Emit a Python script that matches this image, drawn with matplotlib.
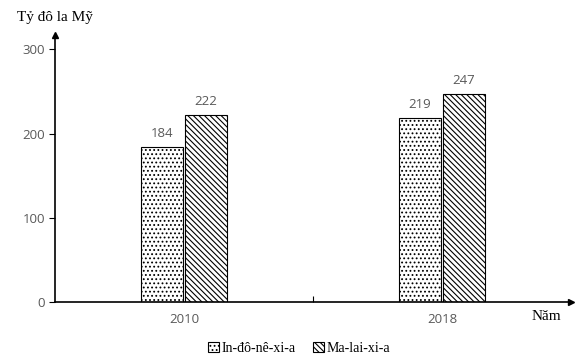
import matplotlib
matplotlib.use("Agg")
import matplotlib.pyplot as plt
import numpy as np

years = ["2010", "2018"]
indo = [184, 219]
malay = [222, 247]
series_names = ["In-đô-nê-xi-a", "Ma-lai-xi-a"]

plt.rcParams['hatch.linewidth'] = 0.8

fig = plt.figure(figsize=(5.81, 3.59), dpi=100)
ax = fig.add_axes([0.0947, 0.1588, 0.888, 0.7437])

x = np.arange(len(years))
w = 0.16
b1 = ax.bar(x - w / 2 - 0.005, indo, w, color='white', edgecolor='black',
            hatch='....', linewidth=0.8, label=series_names[0])
b2 = ax.bar(x + w / 2 + 0.005, malay, w, color='white', edgecolor='black',
            hatch='\\\\\\\\\\\\', linewidth=0.8, label=series_names[1])

for bars, vals in [(b1, indo), (b2, malay)]:
    for r, v in zip(bars, vals):
        ax.text(r.get_x() + r.get_width() / 2, v + 8, str(v), ha='center',
                va='bottom', fontsize=9.5, color='#595959', family='Open Sans')

ax.set_xlim(-0.5, 1.5)
ax.set_ylim(0, 317)
ax.set_yticks([0, 100, 200, 300])
ax.set_xticks(x)
ax.set_xticklabels(years)
ax.set_xticks([0.5], minor=True)
ax.tick_params(axis='x', which='major', length=0, pad=8, labelsize=9.5, labelcolor='#595959')
ax.tick_params(axis='x', which='minor', length=4, direction='in', width=0.8)
ax.tick_params(axis='y', length=4, width=0.8, labelsize=9.5, labelcolor='#595959', pad=3)
for lab in ax.get_xticklabels() + ax.get_yticklabels():
    lab.set_family('Open Sans')

for s in ['top', 'right']:
    ax.spines[s].set_visible(False)
ax.spines['left'].set_linewidth(1.2)
ax.spines['bottom'].set_linewidth(1.2)

# axis arrows
ax.plot(0, 1, '^k', markersize=5, transform=ax.transAxes, clip_on=False)
ax.plot(1, 0, '>k', markersize=5, transform=ax.transAxes, clip_on=False)

fig.text(0.095, 0.95, "Tỷ đô la Mỹ", family='Liberation Serif', fontsize=11,
         ha='center', va='center')
fig.text(0.94, 0.118, "Năm", family='Liberation Serif', fontsize=11,
         ha='center', va='center')

leg = fig.legend(handles=[b1, b2], loc='center', bbox_to_anchor=(0.515, 0.03),
                 ncol=2, frameon=False, handlelength=0.8, handleheight=0.8,
                 handletextpad=0.2, columnspacing=1.2,
                 prop={'family': 'Liberation Serif', 'size': 10})

fig.savefig("out.png", dpi=100)
